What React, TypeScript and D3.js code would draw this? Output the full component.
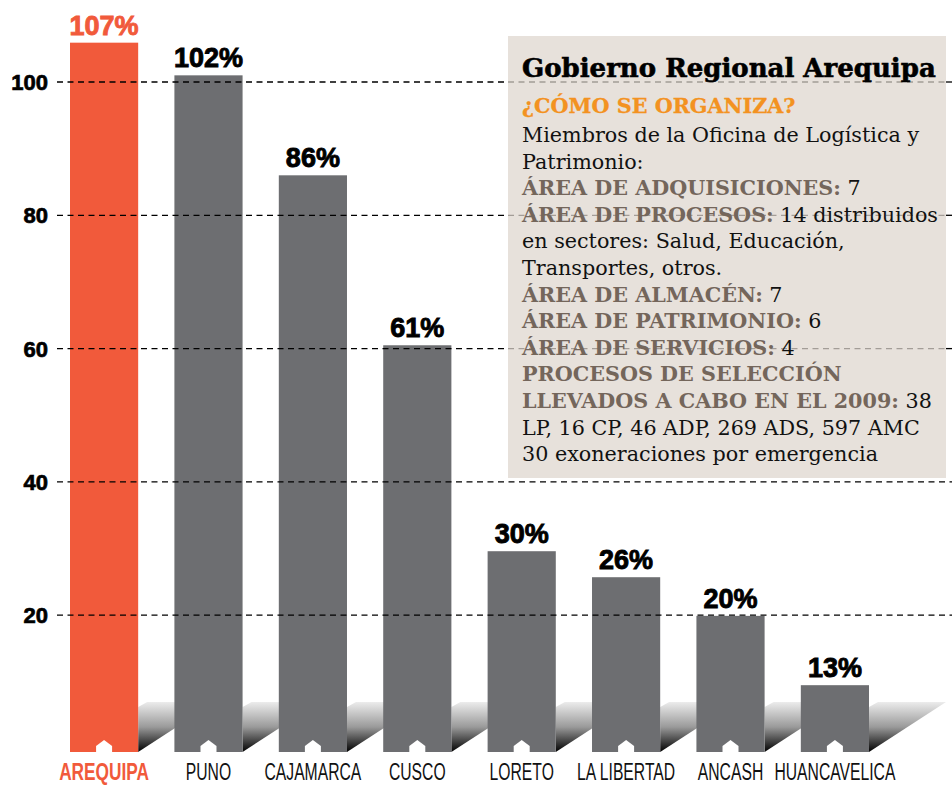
import React from "react";
import * as d3 from "d3";

const categories = ["AREQUIPA", "PUNO", "CAJAMARCA", "CUSCO", "LORETO", "LA LIBERTAD", "ANCASH", "HUANCAVELICA"];
const barHeights = [105.9, 101.0, 86.0, 60.5, 29.6, 25.7, 19.9, 9.5];
const percentLabels = ["107%", "102%", "86%", "61%", "30%", "26%", "20%", "13%"];
const yTicks = [20, 40, 60, 80, 100];

const boxTitle = "Gobierno Regional Arequipa";
const boxSubtitle = "¿CÓMO SE ORGANIZA?";
const boxLines: { b?: string; r?: string }[] = [
  { r: "Miembros de la Oficina de Logística y" },
  { r: "Patrimonio:" },
  { b: "ÁREA DE ADQUISICIONES:", r: " 7" },
  { b: "ÁREA DE PROCESOS:", r: " 14 distribuidos" },
  { r: "en sectores: Salud, Educación," },
  { r: "Transportes, otros." },
  { b: "ÁREA DE ALMACÉN:", r: " 7" },
  { b: "ÁREA DE PATRIMONIO:", r: " 6" },
  { b: "ÁREA DE SERVICIOS:", r: " 4" },
  { b: "PROCESOS DE SELECCIÓN" },
  { b: "LLEVADOS A CABO EN EL 2009:", r: " 38" },
  { r: "LP, 16 CP, 46 ADP, 269 ADS, 597 AMC" },
  { r: "30 exoneraciones por emergencia" },
];

const W = 952;
const H = 785;
const FLOOR = 752;
const RED = "#F15A3B";
const GRAY = "#6D6E71";
const BOX = { x: 508, y: 36, w: 438, h: 442 };
const SANS = "'Liberation Sans', Arial, sans-serif";
const SERIF = "'DejaVu Serif', serif";

export default function App() {
  const x = d3.scaleBand<string>().domain(categories).range([70, 869]).paddingInner(0.347).paddingOuter(0);
  const y = d3.scaleLinear().domain([0, 100]).range([748.5, 82]);
  const bw = x.bandwidth();

  const gridSegs = (ty: number) => {
    const yy = y(ty);
    const inBox = yy > BOX.y && yy < BOX.y + BOX.h;
    if (!inBox) return [{ x1: 57, x2: W, c: "#000" }];
    return [
      { x1: 57, x2: BOX.x, c: "#000" },
      { x1: BOX.x, x2: BOX.x + BOX.w, c: "#a39d97" },
      { x1: BOX.x + BOX.w, x2: W, c: "#000" },
    ];
  };

  return (
    <svg width={W} height={H} style={{ position: "absolute", left: 0, top: 0, display: "block", background: "#fff" }}>
      <defs>
        <linearGradient id="floorGrad" x1="0" y1="0" x2="0" y2="1">
          <stop offset="0" stopColor="#ececec" />
          <stop offset="0.5" stopColor="#9a9a9a" />
          <stop offset="1" stopColor="#000" />
        </linearGradient>
      </defs>

      {/* floor shadows */}
      {categories.map((c) => {
        const r = (x(c) as number) + bw;
        const pts = [
          [r, FLOOR],
          [r + 77, FLOOR - 50],
          [r + 9, FLOOR - 50],
          [r, FLOOR - 45],
        ];
        return <polygon key={"s" + c} points={pts.map((p) => p.join(",")).join(" ")} fill="url(#floorGrad)" />;
      })}

      {/* bars */}
      {categories.map((c, i) => {
        const x0 = x(c) as number;
        const top = y(barHeights[i]);
        const cx = x0 + bw / 2;
        const col = i === 0 ? RED : "#000";
        return (
          <g key={"b" + c}>
            <rect x={x0} y={top} width={bw} height={FLOOR - top} fill={i === 0 ? RED : GRAY} />
            <polygon
              points={`${cx - 8},${FLOOR} ${cx - 8},${FLOOR - 6} ${cx},${FLOOR - 12} ${cx + 8},${FLOOR - 6} ${cx + 8},${FLOOR}`}
              fill="#fff"
            />
            <text
              x={cx}
              y={top - 8}
              textAnchor="middle"
              fontFamily={SANS}
              fontWeight="bold"
              fontSize={27}
              fill={col}
              stroke={col}
              strokeWidth={0.9}
            >
              {percentLabels[i]}
            </text>
            <text
              transform={`translate(${cx},780) scale(${i === 0 ? 0.72 : 0.655},1)`}
              textAnchor="middle"
              fontFamily={SANS}
              fontWeight={i === 0 ? "bold" : "normal"}
              fontSize={24}
              fill={i === 0 ? RED : "#111"}
            >
              {c}
            </text>
          </g>
        );
      })}

      {/* info box */}
      <rect x={BOX.x} y={BOX.y} width={BOX.w} height={BOX.h} fill="#E7E1DB" />

      {/* gridlines */}
      {yTicks.map((t) => (
        <g key={"g" + t}>
          {gridSegs(t).map((s, k) => (
            <line key={k} x1={s.x1} x2={s.x2} y1={y(t)} y2={y(t)} stroke={s.c} strokeWidth={1.3} strokeDasharray="6,4.5" />
          ))}
          <text
            x={48}
            y={y(t) + 8}
            textAnchor="end"
            fontFamily={SANS}
            fontWeight="bold"
            fontSize={22}
            fill="#000"
            stroke="#000"
            strokeWidth={0.7}
          >
            {t}
          </text>
        </g>
      ))}

      {/* box text */}
      <text x={522} y={77} fontFamily={SERIF} fontWeight="bold" fontSize={26} fill="#000" stroke="#000" strokeWidth={0.6}>
        {boxTitle}
      </text>
      <text x={522} y={113} fontFamily={SERIF} fontWeight="bold" fontSize={20.7} fill="#F39221" stroke="#F39221" strokeWidth={0.3}>
        {boxSubtitle}
      </text>
      {boxLines.map((ln, i) => (
        <text key={"l" + i} x={522} y={142 + i * 26.6} fontFamily={SERIF} fontSize={20.7}>
          {ln.b && (
            <tspan fontWeight="bold" fill="#74665B">
              {ln.b}
            </tspan>
          )}
          {ln.r && <tspan fill="#111">{ln.r}</tspan>}
        </text>
      ))}
    </svg>
  );
}
